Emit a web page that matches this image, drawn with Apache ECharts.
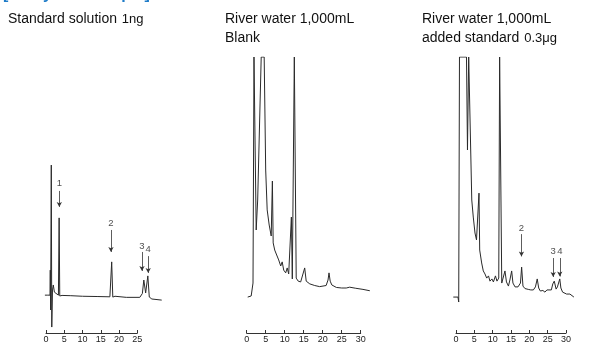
<!DOCTYPE html>
<html>
<head>
<meta charset="utf-8">
<script src="https://cdn.jsdelivr.net/npm/echarts@6/dist/echarts.min.js"></script>
<style>html,body{margin:0;padding:0;background:#fff}#c{width:601px;height:345px}</style>
</head>
<body>
<div id="c"></div>
<script>
// ---- Data (retention time in min, detector response in % of full scale) ----
const p1Time   = [-0.3, 0.5, 1.1, 1.17, 1.26, 1.45, 1.58, 1.78, 2.0, 2.3, 2.7, 3.4, 3.6, 3.77, 4.4, 6.8, 7.0, 7.2, 10, 14, 17.5, 18.0, 18.3, 18.9, 22, 25.7, 26.4, 26.8, 27.3, 27.9, 28.3, 29.0, 31.7];
const p1Signal = [13.4, 13.4, 13.4, 22.5, 8.0, 60.7, 1.8, 15.3, 17.1, 14.5, 13.8, 13.4, 41.5, 13.1, 13.3, 13.2, 13.8, 13.2, 13.0, 12.9, 12.8, 25.5, 12.7, 13.0, 12.6, 12.6, 14.0, 18.9, 14.2, 20.4, 12.7, 12.0, 11.6];

const p2Time   = [0.26, 1.18, 1.66, 1.92, 2.5, 2.89, 3.82, 4.6, 5.0, 5.39, 5.92, 6.45, 6.76, 6.97, 7.37, 7.89, 8.42, 8.95, 9.34, 9.74, 10.26, 10.66, 11.05, 11.45, 11.76, 12.0, 12.32, 12.53, 12.74, 13.03, 13.55, 14.2, 14.7, 15.26, 15.66, 16.6, 17.9, 19.2, 20.9, 21.4, 21.66, 21.97, 22.4, 22.9, 23.6, 25.0, 26.2, 27.1, 28.7, 30.6, 32.4];
const p2Signal = [12.7, 13.1, 17.8, 100, 37.1, 48.0, 100, 100, 58.9, 44.4, 38.9, 34.9, 54.9, 32.4, 29.8, 28.0, 26.2, 24.0, 25.5, 22.5, 21.5, 23.3, 21.1, 20.4, 41.8, 19.3, 18.9, 100, 100, 19.6, 18.5, 18.2, 18.5, 23.3, 18.5, 17.5, 16.9, 16.5, 16.9, 18.9, 21.5, 18.5, 17.1, 17.5, 16.2, 16.0, 16.0, 16.3, 15.9, 15.5, 15.0];

const p3Time   = [-0.74, 0.54, 0.74, 0.95, 2.86, 3.13, 3.46, 4.0, 4.3, 4.71, 5.18, 5.59, 6.1, 6.27, 6.46, 7.0, 7.44, 7.9, 8.37, 8.86, 9.26, 9.8, 10.2, 10.76, 11.17, 11.66, 11.9, 12.15, 12.48, 12.94, 13.35, 13.76, 14.3, 14.7, 15.18, 15.53, 16.1, 16.9, 17.58, 17.9, 18.26, 18.8, 19.7, 20.4, 21.1, 21.66, 22.15, 22.55, 23.0, 23.7, 24.25, 24.8, 25.3, 26.0, 26.4, 26.8, 27.3, 27.66, 28.3, 28.6, 29.07, 30.16, 31.06, 32.15];
const p3Signal = [12.7, 12.7, 10.9, 100, 100, 66.2, 100, 100, 48.0, 41.8, 36.0, 33.5, 33.5, 50.5, 29.8, 25.1, 22.2, 21.1, 19.6, 20.4, 18.5, 19.3, 18.2, 20.4, 18.5, 19.6, 100, 100, 17.8, 18.2, 22.2, 18.2, 16.7, 18.9, 22.2, 17.8, 16.4, 16.4, 17.8, 23.6, 16.7, 15.8, 15.5, 15.3, 15.3, 16.4, 19.3, 16.0, 14.9, 15.1, 14.5, 15.3, 14.9, 15.3, 17.5, 18.5, 15.6, 16.4, 19.3, 16.0, 14.5, 13.8, 13.8, 12.7];

// peak annotations
const p1PeakNames = ['1', '2', '3', '4'];
const p1PeakTime  = [3.65, 17.8, 26.3, 28.0];
const p1LabelY    = [54.0, 39.6, 31.3, 30.0];
const p1ArrowTop  = [51.3, 37.1, 29.1, 27.6];
const p1ArrowTip  = [45.5, 29.1, 22.2, 21.5];

const p3PeakNames = ['2', '3', '4'];
const p3PeakTime  = [17.85, 26.5, 28.3];
const p3LabelY    = [37.7, 29.2, 29.2];
const p3ArrowTop  = [35.6, 26.9, 26.9];
const p3ArrowTip  = [27.5, 20.0, 20.2];

const p1AxisMax = 25, p2AxisMax = 30, p3AxisMax = 30;
const tickStep = 5;

const titles = [
  [['Standard solution ', '1ng']],
  [['River water 1,000mL', ''], ['Blank', '']],
  [['River water 1,000mL', ''], ['added standard ', '0.3\u03bcg']]
];

// ---- Layout ----
const FONT = 'Liberation Sans, Arial, Helvetica, sans-serif';
const layout = [
  {x0: 46, ppu: 3.65, titleX: 8},
  {x0: 246.7, ppu: 3.8, titleX: 225},
  {x0: 456, ppu: 3.667, titleX: 422}
];
const panels = [
  {time: p1Time, signal: p1Signal, axisMax: p1AxisMax, names: p1PeakNames, pt: p1PeakTime, ly: p1LabelY, at: p1ArrowTop, ap: p1ArrowTip},
  {time: p2Time, signal: p2Signal, axisMax: p2AxisMax, names: [], pt: [], ly: [], at: [], ap: []},
  {time: p3Time, signal: p3Signal, axisMax: p3AxisMax, names: p3PeakNames, pt: p3PeakTime, ly: p3LabelY, at: p3ArrowTop, ap: p3ArrowTip}
];
const T0 = -2, T1 = 34;
const AXIS_Y = 333;   // axis line position
const H = 345;

const grid = [], xAxis = [], yAxis = [], series = [], title = [];
panels.forEach((p, i) => {
  const L = layout[i];
  grid.push({left: L.x0 + T0 * L.ppu, width: (T1 - T0) * L.ppu, top: 57, bottom: H - 332});
  xAxis.push({gridIndex: i, type: 'value', min: T0, max: T1, show: false});
  yAxis.push({gridIndex: i, type: 'value', min: 0, max: 100, show: false});
});
panels.forEach((p, i) => {
  const L = layout[i];
  grid.push({left: L.x0, width: p.axisMax * L.ppu, top: 300, bottom: H - AXIS_Y});
  xAxis.push({
    gridIndex: 3 + i, type: 'value', min: 0, max: p.axisMax, interval: tickStep,
    axisLine: {show: true, onZero: false, lineStyle: {color: '#333', width: 1}},
    axisTick: {show: true, inside: true, length: 3, lineStyle: {color: '#333', width: 1}},
    axisLabel: {show: true, fontSize: 9, color: '#222', margin: 2, fontFamily: FONT},
    splitLine: {show: false}
  });
  yAxis.push({gridIndex: 3 + i, type: 'value', min: 0, max: 1, show: false});
});

panels.forEach((p, i) => {
  series.push({
    type: 'line', xAxisIndex: i, yAxisIndex: i,
    data: p.time.map((t, k) => [t, p.signal[k]]),
    showSymbol: false, symbol: 'none', smooth: false,
    lineStyle: {color: '#2a2a2a', width: 1},
    markLine: p.names.length ? {
      silent: true, symbol: ['none', 'arrow'], symbolSize: [4, 5],
      lineStyle: {color: '#333', width: 0.8, type: 'solid'},
      label: {show: false},
      data: p.names.map((n, k) => [{coord: [p.pt[k], p.at[k]]}, {coord: [p.pt[k], p.ap[k]]}])
    } : undefined
  });
  if (p.names.length) {
    series.push({
      type: 'scatter', xAxisIndex: i, yAxisIndex: i, symbolSize: 0,
      data: p.names.map((n, k) => ({name: n, value: [p.pt[k], p.ly[k]]})),
      label: {show: true, position: 'inside', formatter: '{b}', fontSize: 9.5, color: '#222', fontFamily: FONT}
    });
  }
});

titles.forEach((lines, i) => {
  const text = lines.map(([a, b]) => '{a|' + a + '}' + (b ? '{b|' + b + '}' : '')).join('\n');
  title.push({
    text: text, left: layout[i].titleX, top: 7, padding: 0,
    textStyle: {
      fontWeight: 'normal',
      rich: {
        a: {fontSize: 14, fontWeight: 'normal', fontFamily: FONT, color: '#111', lineHeight: 19, verticalAlign: 'bottom'},
        b: {fontSize: 13, fontWeight: 'normal', fontFamily: FONT, color: '#111', lineHeight: 19, verticalAlign: 'bottom', padding: [0, 0, 0, 1]}
      }
    }
  });
});
// partially hidden section heading at the very top
title.push({text: '[Analysis Example]', left: 3, top: -13, padding: 0,
  textStyle: {fontSize: 16, fontWeight: 'bold', color: '#1e7cc8', fontFamily: FONT}});

const chart = echarts.init(document.getElementById('c'), null, {renderer: 'canvas'});
chart.setOption({animation: false, backgroundColor: '#fff', title, grid, xAxis, yAxis, series});
</script>
</body>
</html>
